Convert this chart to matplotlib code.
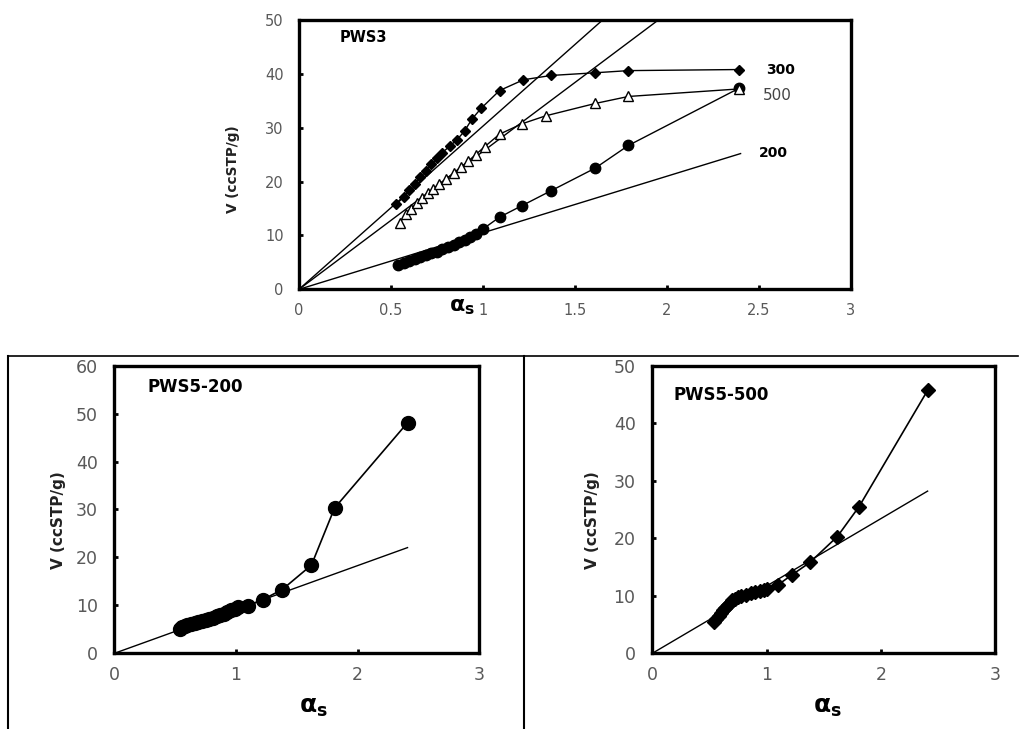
import matplotlib
matplotlib.use("Agg")
import matplotlib.pyplot as plt
from matplotlib.lines import Line2D
import numpy as np

plt.rcParams['font.family'] = ['DejaVu Sans']

# ---------------- data: top panel (PWS3) ----------------
x300 = [0.53, 0.57, 0.60, 0.63, 0.66, 0.69, 0.72, 0.75, 0.78, 0.82, 0.86, 0.90, 0.94, 0.99, 1.09, 1.22, 1.37, 1.61, 1.79, 2.39]
y300 = [15.8, 17.2, 18.4, 19.6, 20.8, 22.0, 23.2, 24.3, 25.4, 26.6, 27.8, 29.4, 31.6, 33.6, 36.9, 38.9, 39.7, 40.2, 40.6, 40.8]
x500 = [0.55, 0.58, 0.61, 0.64, 0.67, 0.70, 0.73, 0.76, 0.80, 0.84, 0.88, 0.92, 0.96, 1.01, 1.09, 1.21, 1.34, 1.61, 1.79, 2.39]
y500 = [12.4, 14.0, 15.0, 16.0, 16.9, 17.8, 18.7, 19.5, 20.5, 21.6, 22.7, 23.8, 25.0, 26.5, 28.8, 30.7, 32.2, 34.5, 35.8, 37.2]
x200 = [0.54, 0.57, 0.60, 0.63, 0.66, 0.69, 0.72, 0.75, 0.78, 0.81, 0.84, 0.87, 0.90, 0.93, 0.96, 1.00, 1.09, 1.21, 1.37, 1.61, 1.79, 2.39]
y200 = [4.5, 4.9, 5.3, 5.6, 6.0, 6.3, 6.7, 7.0, 7.4, 7.8, 8.2, 8.7, 9.2, 9.7, 10.3, 11.2, 13.4, 15.5, 18.3, 22.5, 26.7, 37.3]
slope300, slope500, slope200 = 30.3, 25.6, 10.5
line_x_top = [0.0, 2.4]

# ---------------- data: bottom left (PWS5-200) ----------------
xb1 = [0.54, 0.56, 0.58, 0.60, 0.63, 0.66, 0.69, 0.72, 0.75, 0.78, 0.81, 0.84, 0.87, 0.90, 0.93, 0.96, 0.99, 1.02, 1.10, 1.22, 1.38, 1.62, 1.81, 2.41]
yb1 = [5.0, 5.4, 5.7, 5.9, 6.1, 6.3, 6.5, 6.7, 6.9, 7.1, 7.4, 7.7, 8.0, 8.3, 8.7, 9.0, 9.3, 9.6, 9.9, 11.2, 13.3, 18.4, 30.3, 48.1]
slope_b1 = 9.15

# ---------------- data: bottom right (PWS5-500) ----------------
xb2 = [0.54, 0.56, 0.58, 0.60, 0.62, 0.64, 0.66, 0.68, 0.70, 0.72, 0.75, 0.78, 0.82, 0.86, 0.90, 0.94, 0.98, 1.00, 1.10, 1.22, 1.38, 1.62, 1.81, 2.41]
yb2 = [5.5, 6.0, 6.5, 7.0, 7.5, 7.9, 8.4, 8.8, 9.2, 9.5, 9.8, 10.0, 10.2, 10.4, 10.6, 10.8, 11.0, 11.1, 11.9, 13.6, 15.8, 20.3, 25.5, 45.7]
slope_b2 = 11.7
line_x_bot = [0.0, 2.41]

tick_color = '#595959'

fig = plt.figure(figsize=(10.2, 7.29), dpi=100)


def style_axes(ax, xticks, xlabels, yticks, size, xpad, ypad):
    for s in ax.spines.values():
        s.set_linewidth(2.4)
        s.set_color('black')
    ax.set_xticks(xticks)
    ax.set_xticklabels(xlabels)
    ax.set_yticks(yticks)
    ax.tick_params(direction='in', length=3, width=2, labelsize=size,
                   labelcolor=tick_color)
    ax.tick_params(axis='x', pad=xpad)
    ax.tick_params(axis='y', pad=ypad)


# ---------- top ----------
ax1 = fig.add_axes([0.2931, 0.6031, 0.5412, 0.3695])
ax1.set_xlim(0, 3)
ax1.set_ylim(0, 50)
lx = np.array(line_x_top)
for sl in (slope300, slope500, slope200):
    ax1.plot(lx, sl * lx, color='black', lw=1.0)
ax1.plot(x200, y200, color='black', lw=1.0, marker='o', ms=7.5, mfc='black', mec='black')
ax1.plot(x500, y500, color='black', lw=1.0, marker='^', ms=7, mfc='white', mec='black', mew=1.0)
ax1.plot(x300, y300, color='black', lw=1.0, marker='D', ms=5, mfc='black', mec='black')
style_axes(ax1, [0, 0.5, 1, 1.5, 2, 2.5, 3], ['0', '0.5', '1', '1.5', '2', '2.5', '3'],
           [0, 10, 20, 30, 40, 50], 10.5, 10, 11)
ax1.text(0.073, 0.935, 'PWS3', transform=ax1.transAxes, fontsize=10.5, fontweight='bold', va='center')
ax1.text(2.54, 40.7, '300', fontsize=10, fontweight='bold', va='center')
ax1.text(2.52, 35.9, '500', fontsize=11, color='#444444', va='center')
ax1.text(2.50, 25.4, '200', fontsize=10, fontweight='bold', va='center')
fig.text(233 / 1020, 1 - 169 / 729, 'V (ccSTP/g)', rotation=90, ha='center', va='center',
         fontsize=9.8, fontweight='bold', color='#222222')
fig.text(462 / 1020, 1 - 307 / 729, r'$\mathbf{\alpha_s}$', ha='center', va='center', fontsize=16)

# ---------- bottom left ----------
ax2 = fig.add_axes([0.1121, 0.1038, 0.3578, 0.3946])
ax2.set_xlim(0, 3)
ax2.set_ylim(0, 60)
lxb = np.array(line_x_bot)
ax2.plot(lxb, slope_b1 * lxb, color='black', lw=1.0)
ax2.plot(xb1, yb1, color='black', lw=1.2, marker='o', ms=10, mfc='black', mec='black')
style_axes(ax2, [0, 1, 2, 3], ['0', '1', '2', '3'], [0, 10, 20, 30, 40, 50, 60], 12.5, 9, 12)
ax2.text(0.09, 0.927, 'PWS5-200', transform=ax2.transAxes, fontsize=12, fontweight='bold', va='center')
fig.text(58 / 1020, 1 - 520 / 729, 'V (ccSTP/g)', rotation=90, ha='center', va='center',
         fontsize=11, fontweight='bold', color='#222222')
fig.text(313 / 1020, 1 - 707 / 729, r'$\mathbf{\alpha_s}$', ha='center', va='center', fontsize=18)

# ---------- bottom right ----------
ax3 = fig.add_axes([0.6395, 0.1038, 0.3360, 0.3946])
ax3.set_xlim(0, 3)
ax3.set_ylim(0, 50)
ax3.plot(lxb, slope_b2 * lxb, color='black', lw=1.0)
ax3.plot(xb2, yb2, color='black', lw=1.2, marker='D', ms=7.5, mfc='black', mec='black')
style_axes(ax3, [0, 1, 2, 3], ['0', '1', '2', '3'], [0, 10, 20, 30, 40, 50], 12.5, 9, 12)
ax3.text(0.061, 0.898, 'PWS5-500', transform=ax3.transAxes, fontsize=12, fontweight='bold', va='center')
fig.text(592 / 1020, 1 - 520 / 729, 'V (ccSTP/g)', rotation=90, ha='center', va='center',
         fontsize=11, fontweight='bold', color='#222222')
fig.text(827 / 1020, 1 - 707 / 729, r'$\mathbf{\alpha_s}$', ha='center', va='center', fontsize=18)

# ---------- table frame lines ----------
H = 729.0
W = 1020.0
fig.add_artist(Line2D([8.5 / W, 1018 / W], [1 - 355.7 / H] * 2, color='black', lw=1.2))
fig.add_artist(Line2D([8.5 / W, 8.5 / W], [1 - 355.7 / H, 0], color='black', lw=1.5))
fig.add_artist(Line2D([524.3 / W, 524.3 / W], [1 - 355.7 / H, 0], color='black', lw=1.5))

fig.savefig('out.png', dpi=100)
